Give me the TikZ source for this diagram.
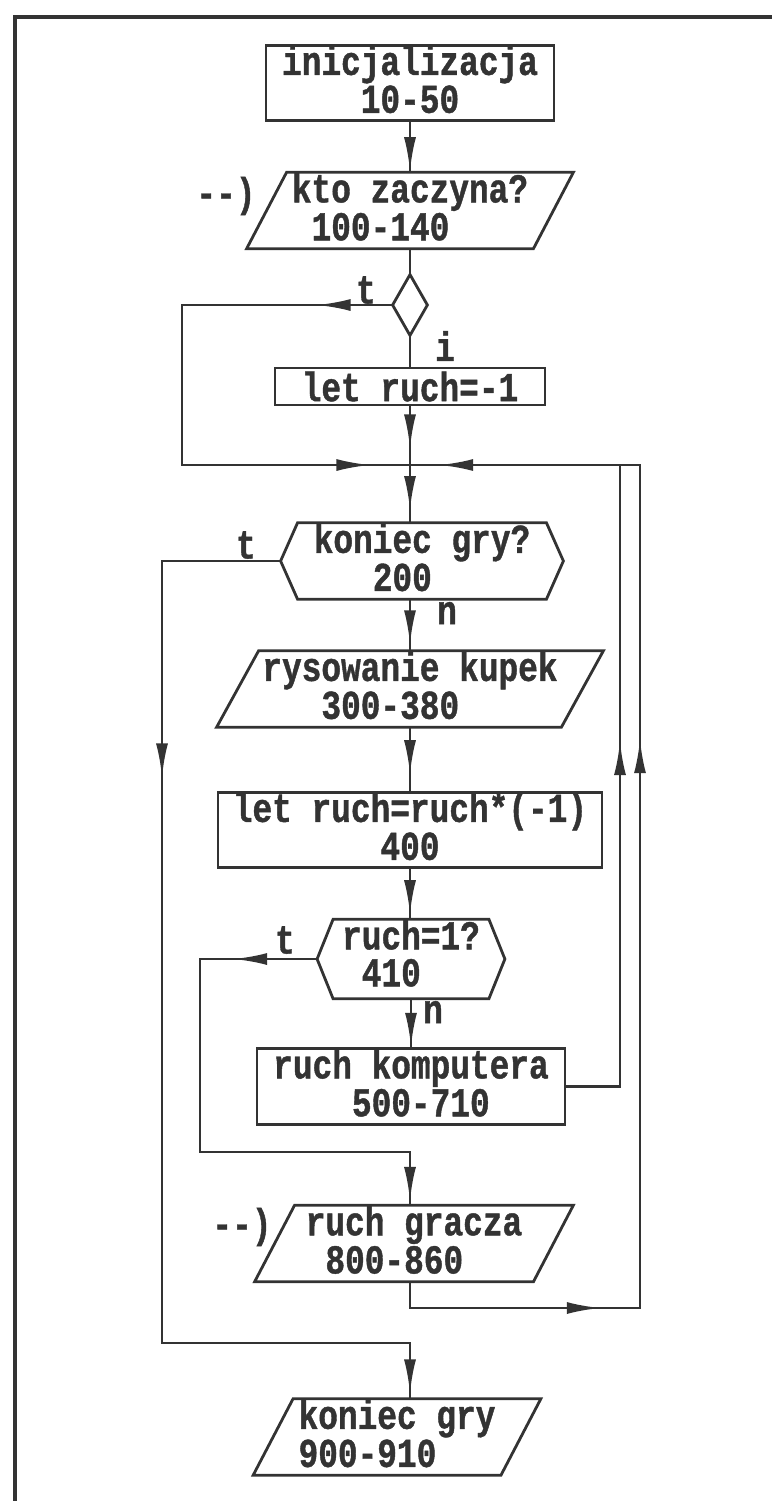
\documentclass[tikz,border=0pt]{standalone}
\usepackage{fontspec}
\newfontfamily\dotfnt[FakeStretch=0.8,FakeBold=1]{Liberation Mono}
\newcommand\dotset{\dotfnt\bfseries\fontsize{20.5pt}{15.5pt}\selectfont}
\newcommand\dpfix{\rule[-4pt]{0pt}{0pt}}
\usetikzlibrary{arrows.meta,decorations.markings}
\colorlet{ink}{black!80}
\newcommand\drawio[2]{\draw[line] ([xshift=#2]#1.north west) -- ([xshift=#2]#1.north east) -- ([xshift=-#2]#1.south east) -- ([xshift=-#2]#1.south west) -- cycle;}
\newcommand\drawdec[2]{\draw[line] ([xshift=#2]#1.north west) -- ([xshift=-#2]#1.north east) -- (#1.east) -- ([xshift=-#2]#1.south east) -- ([xshift=#2]#1.south west) -- (#1.west) -- cycle;}
\tikzset{
  line/.style={draw=ink,line width=1.4pt},
  flow/.style={line,postaction={decorate}},
  tip/.style={decoration={markings,mark=at position #1 with {\arrow{Latex[length=17pt,width=6pt]}}}},
  box/.style={line,rectangle,inner sep=0pt,align=center,text=ink,font=\dotset},
  plain/.style={rectangle,inner sep=0pt,align=left,text=ink,font=\dotset},
  lbl/.style={inner sep=0pt,text=ink,font=\dotset}
}
\begin{document}
\begin{tikzpicture}[x=0.5pt,y=-0.5pt]
  \useasboundingbox (0,0) rectangle (772,1501);
  \draw[line,line width=2.4pt] (15,1501) -- (15,17) -- (772,17);

  \node[box,minimum width=144pt,minimum height=35pt] (init) at (410,83) {inicjalizacja\\10-50\dpfix};
  \node[plain,minimum width=143pt,minimum height=34.5pt] (kz) at (410,210.5) {kto zaczyna?\\\phantom{0}100-140\dpfix};
  \drawio{kz}{10pt}
  \node[plain,minimum width=17pt,minimum height=30pt] (dm) at (410,305) {};
  \draw[line] (dm.north) -- (dm.east) -- (dm.south) -- (dm.west) -- cycle;
  \node[box,minimum width=135pt,minimum height=18.5pt] (lr) at (410,386.5) {let ruch=-1};
  \node[plain,minimum width=141pt,minimum height=34.5pt] (kg) at (422,561) {koniec gry?\\\phantom{000}200\dpfix};
  \drawdec{kg}{8.5pt}
  \node[plain,minimum width=172pt,minimum height=34pt] (rk) at (410,689) {rysowanie kupek\\\phantom{000}300-380\dpfix};
  \drawio{rk}{10.5pt}
  \node[box,minimum width=192pt,minimum height=35pt] (lm) at (410,830) {let ruch=ruch*(-1)\\400\dpfix};
  \node[plain,minimum width=93.5pt,minimum height=33pt] (r1) at (411,959) {ruch=1?\\[3pt]\phantom{0}410\rule[-6pt]{0pt}{0pt}};
  \drawdec{r1}{8pt}
  \node[box,align=left,minimum width=154pt,minimum height=34.5pt] (kp) at (411,1086.5) {ruch komputera\\\phantom{0000}500-710\dpfix};
  \node[plain,minimum width=139pt,minimum height=34.5pt] (rg) at (414,1243.5) {ruch gracza\\\phantom{0}800-860\dpfix};
  \drawio{rg}{10pt}
  \node[plain,minimum width=123.5pt,minimum height=35pt] (kk) at (397,1437) {koniec gry\\900-910\dpfix};
  \drawio{kk}{10pt}

  \node[lbl] (e1) at (226,196) {-{}-)};
  \node[lbl] (e2) at (242,1227) {-{}-)};
  \node[lbl] (t1) at (366,290) {t};
  \node[lbl] (i1) at (445,346) {i};
  \node[lbl] (t2) at (246,545) {t};
  \node[lbl] (n1) at (447,613) {n};
  \node[lbl] (t3) at (285,940) {t};
  \node[lbl] (n2) at (433,1012) {n};

  \coordinate (mg) at (410,465);
  \coordinate (tl) at (182,465);
  \coordinate (bl) at (162,1343);
  \coordinate (cl) at (200,1152);
  \coordinate (ri) at (620,465);
  \coordinate (ro) at (640,465);
  \coordinate (rb) at (640,1308);

  \draw[flow,tip=24.5pt] (init.south) -- (kz.north);
  \draw[flow,tip=14pt] (kz.south) -- (dm.north);
  \draw[flow,tip=16.5pt] (dm.south) -- (lr.north);
  \draw[flow,tip=21pt] (lr.south) -- (mg);
  \draw[flow,tip=22.5pt] (mg) -- (mg |- kg.north);
  \draw[flow,tip=22.5pt] (rk.north |- kg.south) -- (rk.north);
  \draw[flow,tip=23.5pt] (rk.south) -- (lm.north);
  \draw[flow,tip=22.5pt] (lm.south) -- (lm.south |- r1.north);
  \draw[flow,tip=24pt] (r1.south) -- (kp.north);
  \draw[flow,tip=38pt,tip=279.5pt] (dm.west) -- (dm.west -| tl) -- (tl) -- (mg);
  \draw[flow,tip=167.5pt,tip=599.5pt] (kg.west) -- (kg.west -| bl) -- (bl) -- (bl -| mg) -- (mg |- kk.north);
  \draw[flow,tip=42pt,tip=284.5pt] (r1.west) -- (r1.west -| cl) -- (cl) -- (cl -| mg) -- (mg |- rg.north);
  \draw[flow,tip=199.5pt] (kp.east) -- (kp.east -| ri) -- (ri);
  \draw[flow,tip=108.5pt,tip=412.5pt,tip=650pt] (rg.south -| mg) -- (mg |- rb) -- (rb) -- (ro) -- (mg);
\end{tikzpicture}
\end{document}
